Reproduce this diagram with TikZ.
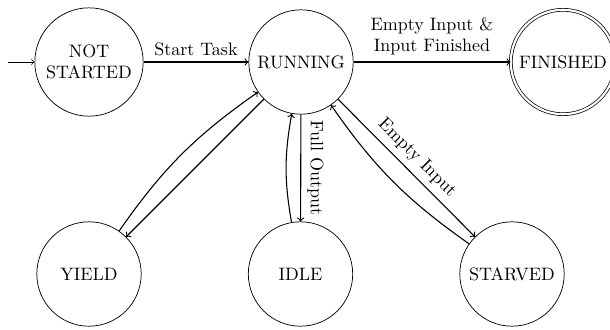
\documentclass[tikz,border=0pt]{standalone}
\begin{document}
\begin{tikzpicture}[x=0.5556pt,y=0.5556pt,
  st/.style={circle,draw,minimum size=58pt,inner sep=3.33pt,align=center},
  fin/.style={st,double,double distance=1.2pt},
  edge/.style={->,semithick}]
\useasboundingbox (0,0) rectangle (610,-329);
\node[st] (ns) at (89,-62) {NOT\\STARTED};
\node[st] (r) at (301,-62) {RUNNING};
\node[fin] (f) at (563,-62) {FINISHED};
\node[st] (y) at (89,-274) {YIELD};
\node[st] (i) at (300.5,-274) {IDLE};
\node[st] (s) at (512,-274) {STARVED};
\coordinate (init) at (8,-62);
\draw[->] (init) -- (ns);
\draw[edge] (ns) -- node[above] {Start Task} (r);
\draw[edge] (r) -- node[above,align=center] {Empty Input \&\\Input Finished} (f);
\draw[edge] (r) -- (y);
\draw[edge] (y) to[bend left=10] (r);
\draw[edge] (r) -- node[midway,rotate=-90,anchor=south] {Full Output} (i);
\draw[edge] (i) to[bend left=10] (r);
\draw[edge] (r) -- node[above,sloped] {Empty Input} (s);
\draw[edge] (s) to[bend left=10] (r);
\end{tikzpicture}
\end{document}
